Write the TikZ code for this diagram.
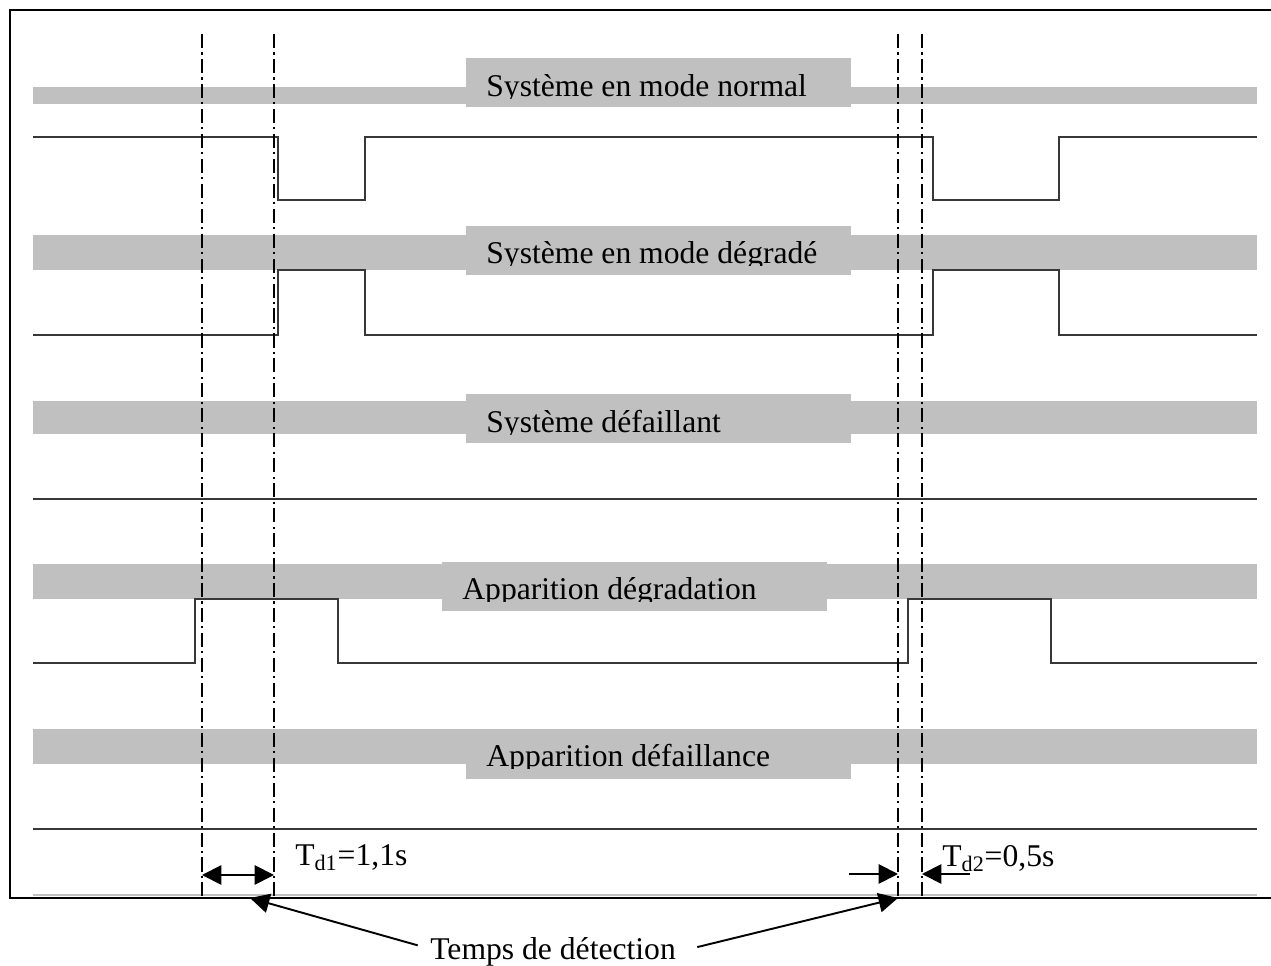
\documentclass[tikz,border=0pt]{standalone}
\usepackage{fontspec}
\setmainfont{Liberation Serif}
\usepackage{tikz}
\usetikzlibrary{arrows.meta}

\definecolor{bandgray}{HTML}{C0C0C0}
\definecolor{siggray}{HTML}{383838}

\tikzset{
    band/.style={fill=bandgray},
    sig/.style={draw=siggray, line width=0.75pt},
    guide/.style={line width=1.3pt, dash pattern=on 8pt off 2.5pt on 1.2pt off 2.5pt},
    dim/.style={line width=1.1pt},
    lbl/.style={inner sep=0pt, anchor=base west}
}

\begin{document}
\begin{tikzpicture}[x=0.2mm, y=-0.2mm, font=\fontsize{18}{21}\selectfont,
    >={Triangle[length=11pt, width=11pt]}]
    \useasboundingbox (0,0) rectangle (1271,966);
    % Frame
    \draw[line width=1.1pt] (1271,10) -- (10,10) -- (10,898) -- (1271,898);

    % Grey bands with their labels
    \foreach \ya/\yb/\bx/\bt/\bb/\bl/\txt in {
        87/104/466/58/107/97/Système en mode normal,
        235/270/466/226/275/264/Système en mode dégradé,
        401/434/466/394/443/433/Système défaillant,
        564/599/442/562/611/600/Apparition dégradation,
        729/764/466/729/779/767/Apparition défaillance}{
        \fill[band] (33,\ya) rectangle (1257,\yb);
        \fill[band] (\bx,\bt) rectangle (\bx+385,\bb);
        \begin{scope}
            \clip (\bx,\bt) rectangle (\bx+385,\bl+2);
            \node[lbl] (lbl\ya) at (\bx+20,\bl) {\txt};
        \end{scope}
    }

    % Signals
    \draw[sig] (33,137) -- (278,137) -- (278,200) -- (365,200) -- (365,137) -- (933,137)
        -- (933,200) -- (1059,200) -- (1059,137) -- (1257,137);
    \draw[sig] (33,335) -- (278,335) -- (278,270) -- (365,270) -- (365,335) -- (933,335)
        -- (933,270) -- (1059,270) -- (1059,335) -- (1257,335);
    \draw[sig] (33,499) -- (1257,499);
    \draw[sig] (33,663) -- (195,663) -- (195,599) -- (338,599) -- (338,663) -- (908,663)
        -- (908,599) -- (1051,599) -- (1051,663) -- (1257,663);
    \draw[sig] (33,829) -- (1257,829);
    \draw[bandgray, line width=1.1pt] (33,895) -- (1257,895);

    % Dash-dot time marks
    \foreach \x [count=\i] in {202,274,898,922} {
        \coordinate (g\i) at (\x,898);
        \draw[guide] (\x,34) -- (g\i);
    }

    % Detection times
    \draw[dim, <->] (202,875) -- (274,875);
    \node[lbl] (td1) at (295,866) {T\textsubscript{d1}=1,1s};
    \draw[dim, ->] (849,874) -- (898,874);
    \draw[dim, ->] (970,874) -- (922,874);
    \node[lbl] (td2) at (942,867) {T\textsubscript{d2}=0,5s};

    \node[lbl] (tdet) at (430,960) {Temps de détection};
    \coordinate (hit) at (250,898);
    \draw[dim, ->] ([xshift=-7pt, yshift=4pt]tdet.west) -- (hit);
    \draw[dim, ->] ([xshift=12pt, yshift=3pt]tdet.east) -- (g3);
\end{tikzpicture}
\end{document}
